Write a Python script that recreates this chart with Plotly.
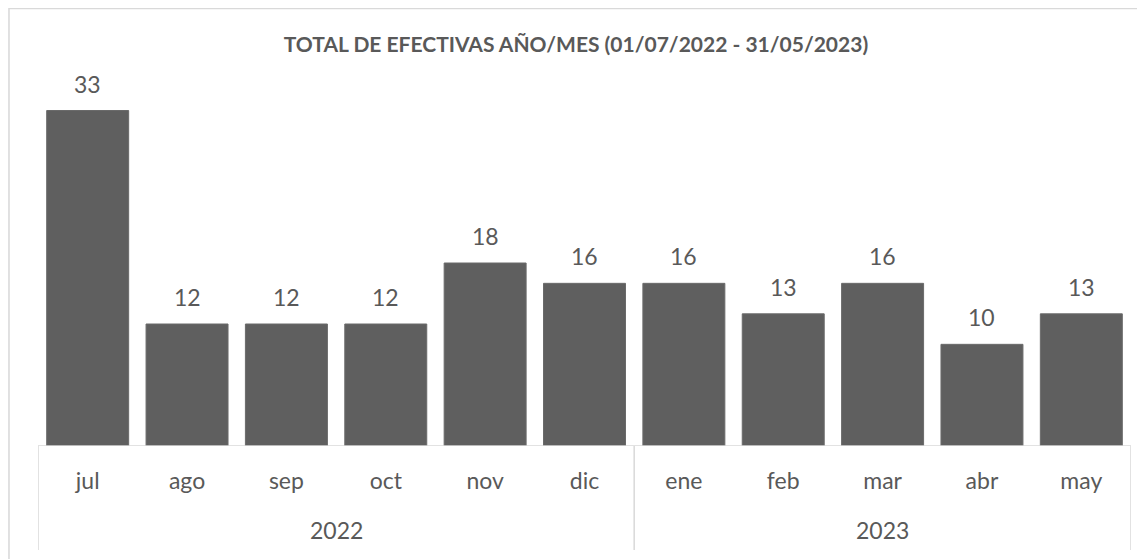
import plotly.graph_objects as go

months = ["jul", "ago", "sep", "oct", "nov", "dic", "ene", "feb", "mar", "abr", "may"]
values = [33, 12, 12, 12, 18, 16, 16, 13, 16, 10, 13]
years = ["2022", "2023"]
year_spans = [(0, 5), (6, 10)]  # index ranges of months per year
title = "TOTAL DE EFECTIVAS AÑO/MES (01/07/2022 - 31/05/2023)"

OFF = 8  # page body margin
W, H = 1145 - OFF, 559 - OFF
# reference pixel geometry (window coords)
PL, PR, PT, PB = 38, 1131, 80, 446
L = PL - OFF
R = W - (PR - OFF)
T = PT - OFF
B = H - (PB - OFF)
plot_h = PB - PT
plot_w = PR - PL

def py(pix):
    return (PB - pix) / plot_h

def px(pix):
    return (pix - PL) / plot_w

txt = "#595959"
line_c = "#d9d9d9"
FONT = "Lato"

fig = go.Figure()
fig.add_trace(go.Bar(
    x=list(range(len(months))), y=values,
    marker=dict(color="#5f5f5f", line=dict(color="#6a6a6a", width=1)),
    width=0.825, cliponaxis=False,
))

shapes = []
shapes.append(dict(type="rect", xref="paper", yref="paper",
                   x0=px(9), x1=px(1160), y0=py(8.5), y1=py(580),
                   fillcolor="white", line=dict(color=line_c, width=1.5), layer="below"))
shapes.append(dict(type="line", xref="x", yref="y", x0=-0.5, x1=len(months) - 0.5, y0=0, y1=0,
                   line=dict(color=line_c, width=1.5)))
bounds = [year_spans[0][0] - 0.5] + [s[1] + 0.5 for s in year_spans]
for b in bounds:
    shapes.append(dict(type="line", xref="x", yref="paper", x0=b, x1=b, y0=0, y1=py(550),
                       line=dict(color=line_c, width=1.5)))

annotations = []
for i, v in enumerate(values):
    annotations.append(dict(text=str(v), x=i, xref="x", y=v, yref="y", showarrow=False,
                            yanchor="middle", yshift=27,
                            font=dict(family=FONT, size=23, color=txt)))
for yr, (a, b) in zip(years, year_spans):
    annotations.append(dict(text=yr, x=(a + b) / 2, xref="x", y=py(530), yref="paper",
                            showarrow=False, yanchor="middle",
                            font=dict(family=FONT, size=23, color=txt)))

fig.update_layout(
    width=W, height=H,
    margin=dict(l=L, r=R, t=T, b=B),
    paper_bgcolor="#f5f5f8", plot_bgcolor="rgba(0,0,0,0)",
    showlegend=False,
    title=dict(text="<b>" + title + "</b>", x=px(584), xanchor="center",
               y=1 - (45 - OFF) / H, yanchor="middle",
               font=dict(family=FONT, size=21, color=txt)),
    shapes=shapes, annotations=annotations,
    xaxis=dict(range=[-0.5, len(months) - 0.5], tickmode="array",
               tickvals=list(range(len(months))), ticktext=months,
               ticks="outside", ticklen=14, tickcolor="rgba(0,0,0,0)",
               tickfont=dict(family=FONT, size=23, color=txt),
               showgrid=False, zeroline=False, showline=False, automargin=False),
    yaxis=dict(range=[0, 36], visible=False),
)

fig.write_html("out.html")
